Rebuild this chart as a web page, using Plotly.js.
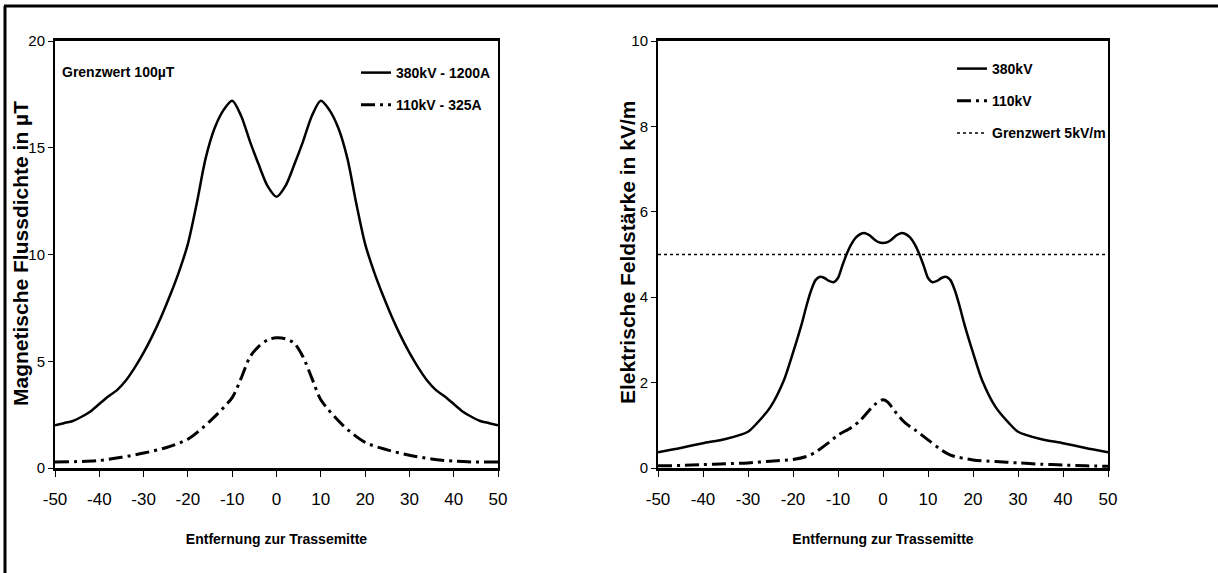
<!DOCTYPE html>
<html>
<head>
<meta charset="utf-8">
<script src="https://cdn.plot.ly/plotly-3.0.1.min.js"></script>
<style>
html,body{margin:0;padding:0;background:#fff;}
#chart{width:1218px;height:573px;}
</style>
</head>
<body>
<div id="chart"></div>
<script>
// ---- Data: magnetic flux density (left chart) ----
const magX380 = [-50,-48,-46,-44,-42,-40,-38,-36,-34,-32,-30,-28,-26,-24,-22,-20,-18,-16,-14,-12,-10,-8,-6,-4,-2,0,2,4,6,8,10,12,14,16,18,20,22,24,26,28,30,32,34,36,38,40,42,44,46,48,50];
const magY380 = [2.0,2.1,2.2,2.4,2.65,3.0,3.35,3.65,4.1,4.7,5.4,6.2,7.1,8.1,9.2,10.5,12.4,14.5,15.9,16.75,17.2,16.5,15.3,14.2,13.2,12.7,13.2,14.2,15.3,16.5,17.2,16.75,15.9,14.5,12.4,10.5,9.2,8.1,7.1,6.2,5.4,4.7,4.1,3.65,3.35,3.0,2.65,2.4,2.2,2.1,2.0];
const magX110 = [-50,-45,-40,-35,-30,-25,-20,-15,-10,-8,-6,-4,-2,0,2,4,6,8,10,15,20,25,30,35,40,45,50];
const magY110 = [0.28,0.3,0.35,0.5,0.7,0.95,1.35,2.2,3.3,4.2,5.2,5.7,6.0,6.1,6.05,5.85,5.2,4.2,3.2,2.0,1.2,0.85,0.6,0.42,0.32,0.28,0.28];

// ---- Data: electric field strength (right chart) ----
const elX380 = [-50,-45,-40,-35,-30,-28,-25,-22,-20,-18,-17,-16,-15,-14,-13,-12,-11,-10,-9,-8,-7,-6,-5,-4,-3,-2,-1,0,1,2,3,4,5,6,7,8,9,10,11,12,13,14,15,16,17,18,20,22,25,28,30,35,40,45,50];
const elY380 = [0.37,0.47,0.58,0.68,0.85,1.05,1.43,2.06,2.7,3.4,3.8,4.15,4.4,4.48,4.45,4.38,4.35,4.45,4.75,5.03,5.25,5.4,5.48,5.5,5.45,5.36,5.29,5.27,5.29,5.36,5.45,5.5,5.48,5.4,5.25,5.03,4.75,4.45,4.35,4.38,4.45,4.48,4.4,4.15,3.8,3.4,2.7,2.06,1.43,1.05,0.85,0.68,0.58,0.47,0.37];
const elX110 = [-50,-45,-40,-35,-30,-25,-20,-17,-15,-12,-10,-7,-5,-2,0,1,3,5,7,10,13,15,20,25,30,35,40,45,50];
const elY110 = [0.05,0.06,0.08,0.1,0.12,0.16,0.2,0.27,0.37,0.6,0.77,0.95,1.12,1.47,1.6,1.55,1.28,1.05,0.9,0.66,0.42,0.3,0.19,0.15,0.12,0.09,0.07,0.05,0.04];
const limitX = [-50, 50];
const limitY = [5, 5];

// ---- Tick labels ----
const xTickVals = [-50,-40,-30,-20,-10,0,10,20,30,40,50];
const xTickText = ['-50','-40','-30','-20','-10','0','10','20','30','40','50'];
const magTickVals = [0,5,10,15,20];
const elTickVals = [0,2,4,6,8,10];

// ---- Labels ----
const xTitle = 'Entfernung zur Trassemitte';
const magTitle = 'Magnetische Flussdichte in µT';
const elTitle = 'Elektrische Feldstärke in kV/m';
const magLegend = ['380kV - 1200A', '110kV - 325A'];
const elLegend = ['380kV', '110kV', 'Grenzwert 5kV/m'];
const magNote = 'Grenzwert 100µT';

const sans = '"Liberation Sans", Arial, sans-serif';
const dash110 = '14px,5px,3px,5px';

const traces = [
  {x: magX380, y: magY380, xaxis:'x', yaxis:'y', mode:'lines', name: magLegend[0], legend:'legend', legendgroup:'a',
   line:{color:'#000', width:2.5, shape:'spline', smoothing:0.8}},
  {x: magX110, y: magY110, xaxis:'x', yaxis:'y', mode:'lines', name: magLegend[1], legend:'legend', legendgroup:'b',
   line:{color:'#000', width:3, dash:dash110, shape:'spline', smoothing:0.8}},
  {x: elX380, y: elY380, xaxis:'x2', yaxis:'y2', mode:'lines', name: elLegend[0], legend:'legend2', legendgroup:'c',
   line:{color:'#000', width:2.5, shape:'spline', smoothing:0.7}},
  {x: elX110, y: elY110, xaxis:'x2', yaxis:'y2', mode:'lines', name: elLegend[1], legend:'legend2', legendgroup:'d',
   line:{color:'#000', width:3, dash:dash110, shape:'spline', smoothing:0.8}},
  {x: limitX, y: limitY, xaxis:'x2', yaxis:'y2', mode:'lines', name: elLegend[2], legend:'legend2', legendgroup:'e',
   line:{color:'#000', width:1.5, dash:'dot'}}
];

const W = 1218, H = 573;
const px = v => v / W;
const py = v => 1 - v / H;

const xCommon = {
  range:[-50,50], tickmode:'array', tickvals:xTickVals, ticktext:xTickText,
  showgrid:false, zeroline:false,
  showline:true, linecolor:'#000', linewidth:3, mirror:true,
  ticks:'outside', ticklen:6, tickwidth:1, tickcolor:'#000', ticklabelstandoff:8,
  tickfont:{family:sans, size:17, color:'#000'},
  title:{text:xTitle, font:{family:sans, size:14, color:'#000', weight:'bold'}, standoff:26},
  automargin:false, fixedrange:true
};
const yCommon = {
  showgrid:false, zeroline:false,
  showline:true, linecolor:'#000', linewidth:2, mirror:true,
  ticks:'outside', ticklen:5, tickwidth:1, tickcolor:'#000',
  tickfont:{family:sans, size:15, color:'#000'},
  automargin:false, fixedrange:true
};

const layout = {
  width:W, height:H,
  margin:{l:0, r:0, t:0, b:0},
  paper_bgcolor:'#fff', plot_bgcolor:'#fff',
  showlegend:true,
  xaxis: Object.assign({}, xCommon, {domain:[px(55), px(498)], anchor:'y'}),
  yaxis: Object.assign({}, yCommon, {domain:[py(468), py(41)], anchor:'x', range:[0,20], tickmode:'array', tickvals:magTickVals}),
  xaxis2: Object.assign({}, xCommon, {domain:[px(658), px(1108)], anchor:'y2'}),
  yaxis2: Object.assign({}, yCommon, {domain:[py(468), py(41)], anchor:'x2', range:[0,10], tickmode:'array', tickvals:elTickVals}),
  legend: {x:px(356), y:py(57), xanchor:'left', yanchor:'top', bgcolor:'rgba(0,0,0,0)', borderwidth:0,
    font:{family:sans, size:14, color:'#000', weight:'bold'}, tracegroupgap:11, itemwidth:30},
  legend2: {x:px(952), y:py(53), xanchor:'left', yanchor:'top', bgcolor:'rgba(0,0,0,0)', borderwidth:0,
    font:{family:sans, size:14, color:'#000', weight:'bold'}, tracegroupgap:11, itemwidth:30},
  annotations:[
    {text:magNote, xref:'paper', yref:'paper', x:px(60), y:py(72), xanchor:'left', yanchor:'middle', showarrow:false,
     font:{family:sans, size:14, color:'#000', weight:'bold'}},
    {text:magTitle, xref:'paper', yref:'paper', x:px(20), y:py(254), xanchor:'center', yanchor:'middle', textangle:-90,
     showarrow:false, font:{family:sans, size:21, color:'#000', weight:'bold'}},
    {text:elTitle, xref:'paper', yref:'paper', x:px(627), y:py(253), xanchor:'center', yanchor:'middle', textangle:-90,
     showarrow:false, font:{family:sans, size:21, color:'#000', weight:'bold'}}
  ],
  shapes:[
    {type:'line', xref:'paper', yref:'paper', x0:px(4), x1:1, y0:py(6), y1:py(6), line:{color:'#000', width:3}},
    {type:'line', xref:'paper', yref:'paper', x0:px(5), x1:px(5), y0:py(6), y1:0, line:{color:'#000', width:3}}
  ]
};

Plotly.newPlot('chart', traces, layout, {displayModeBar:false, staticPlot:true});
</script>
</body>
</html>
